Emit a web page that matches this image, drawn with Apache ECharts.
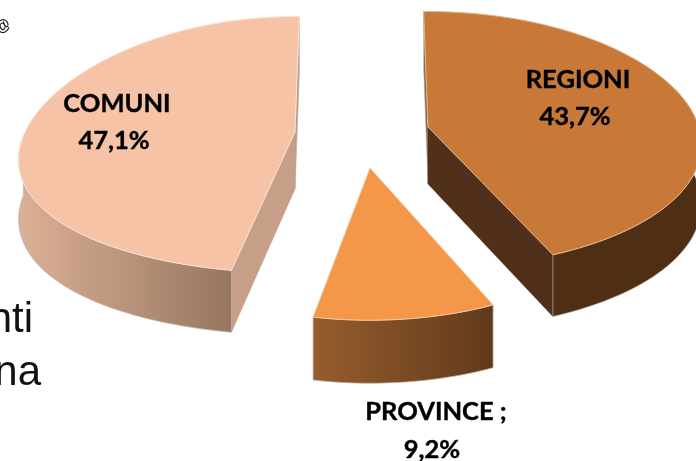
<!DOCTYPE html>
<html><head><meta charset="utf-8">
<style>html,body{margin:0;padding:0;background:#fff;overflow:hidden}#c{width:696px;height:461px}</style>
<script src="https://cdn.jsdelivr.net/npm/echarts@6/dist/echarts.min.js"></script>
</head><body><div id="c"></div>
<script>
var categories = ['REGIONI', 'PROVINCE', 'COMUNI'];
var shareValues = [43.7, 9.2, 47.1];
var labelSuffix = ['', ' ;', ''];

var firstAngle = -1;
var perspective = 0.1;
var looks = [
  {cx:428, cy:127, rx:272, ry:127, droop:5, d0:57, d1:62, endNudge:-1, startNudge:0,
   top:'#c87938', edge:'#e0b48c', wallA:'#4f2f14', wallB:'#4f2f14', face:'#50301a', back:'#86633f',
   nameAt:[578,80], valAt:[575,117]},
  {cx:370, cy:168, rx:268, ry:137, droop:0, d0:60, d1:63, endNudge:1.6, startNudge:-1,
   top:'#f59748', edge:'#f3c9a0', wallA:'#965d2d', wallB:'#613a1b', face:'#613a1b', back:'#613a1b',
   nameAt:[436,412], valAt:[432,450]},
  {cx:295, cy:132, rx:275, ry:127, droop:15, d0:57, d1:62, endNudge:2, startNudge:2.6,
   top:'#f6c3a6', edge:'#fbe3d3', wallA:'#dcb095', wallB:'#977661', face:'#c79f88', back:'#bb9a84',
   nameAt:[117,104], valAt:[114,141]}
];
var total = shareValues.reduce(function(a,b){return a+b;},0);

function proj(L, deg, lift){
  var t = deg*Math.PI/180, w = 1 + perspective*Math.cos(t), s = Math.sin(t);
  var d = lift ? L.d0 + (L.d1-L.d0)*(1-Math.cos(t))/2 : 0;
  return [L.cx + L.rx*s/w, L.cy - L.ry*Math.cos(t)/w + L.droop*s*s + d];
}
function arc(L, a, b, lift){
  var out=[], n=Math.max(8,Math.ceil(Math.abs(b-a)/2));
  for(var i=0;i<=n;i++) out.push(proj(L, a+(b-a)*i/n, lift));
  return out;
}
function renderSlice(params, api){
  var i = params.dataIndex, L = looks[i], before = 0;
  for(var k=0;k<i;k++) before += shareValues[k];
  var a = firstAngle + before/total*360 + L.startNudge;
  var b = firstAngle + (before+api.value(0))/total*360 + L.endNudge;
  var c = [L.cx, L.cy], cd = [L.cx, L.cy+L.d0];
  var topArc = arc(L,a,b,false);
  var kids = [];
  var backDeg = (i===1) ? null : (i===0 ? a : b);
  if(backDeg!==null){
    kids.push({type:'polygon',shape:{points:[c,proj(L,backDeg,false),proj(L,backDeg,true),cd]},
      style:{fill:L.back,stroke:'#b5b0aa',lineWidth:0.6}});
  }
  var frontDeg = (i===0) ? b : (i===2 ? a : null);
  if(frontDeg!==null){
    kids.push({type:'polygon',shape:{points:[c,proj(L,frontDeg,false),proj(L,frontDeg,true),cd]},
      style:{fill:L.face,stroke:L.face,lineWidth:0.5}});
  }
  var w0 = a, w1 = b;
  if(i===2){ w1=Math.min(b,275); }
  if(i===0){ w0=70; }
  var wallTop = arc(L,w0,w1,false), wallBot = arc(L,w0,w1,true).reverse();
  kids.push({type:'polygon',shape:{points:wallTop.concat(wallBot)},
    style:{fill:new echarts.graphic.LinearGradient(0,0,1,0,[
      {offset:0,color:L.wallA},{offset:1,color:L.wallB}]),
      stroke:'#b9b4ae',lineWidth:0.7}});
  kids.push({type:'polygon',shape:{points:[c].concat(topArc)},
    style:{fill:L.top,stroke:L.edge,lineWidth:1,lineJoin:'round'}});
  var font = 'bold 25.5px Lato, "Open Sans", sans-serif';
  kids.push({type:'text',style:{text:api.value(1)+labelSuffix[i],x:L.nameAt[0],y:L.nameAt[1],
    align:'center',verticalAlign:'middle',font:font,fill:'#000',stroke:'#000',lineWidth:0.4}});
  kids.push({type:'text',style:{text:api.value(0).toFixed(1).replace('.',',')+'%',x:L.valAt[0],y:L.valAt[1],
    align:'center',verticalAlign:'middle',font:font,fill:'#000',stroke:'#000',lineWidth:0.4}});
  return {type:'group',children:kids};
}
var rows = shareValues.map(function(v,i){return [v,categories[i]];});
var chart = echarts.init(document.getElementById('c'),null,{renderer:'canvas'});
chart.setOption({
  animation:false,
  backgroundColor:'#fff',
  graphic:[
    {type:'text',z:-1,style:{text:'nti',x:33,y:299,align:'right',verticalAlign:'alphabetic',font:'42px "Liberation Sans", Arial, sans-serif',fill:'#111'}},
    {type:'text',z:-1,style:{text:'na',x:41,y:352,align:'right',verticalAlign:'alphabetic',font:'42px "Liberation Sans", Arial, sans-serif',fill:'#111'}},
    {type:'text',z:-1,x:3,y:26,rotation:0.7,style:{text:'@',align:'center',verticalAlign:'middle',font:'bold 15px "Liberation Sans", sans-serif',fill:'#111'}}
  ],
  series:[{
    type:'custom',
    coordinateSystem:'none',
    renderItem:renderSlice,
    dimensions:['share','name'],
    data:rows,
    silent:true
  }]
});
</script></body></html>
